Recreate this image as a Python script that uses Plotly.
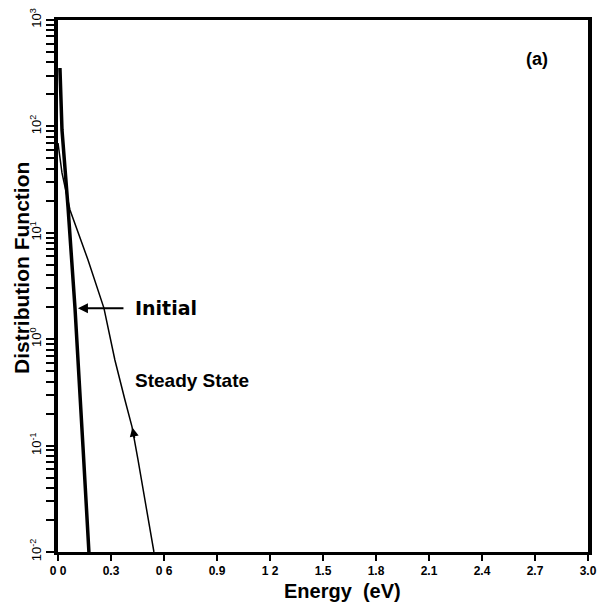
import plotly.graph_objects as go

# Initial distribution (energy in eV, value)
initial_energy = [0.011, 0.0226, 0.0566, 0.0962, 0.1415, 0.175]
initial_value = [354, 92.5, 17.5, 1.96, 0.097, 0.01]

# Steady state distribution
steady_energy = [0.0, 0.0226, 0.068, 0.170, 0.260, 0.322, 0.379, 0.419, 0.453, 0.504, 0.543]
steady_value = [69.8, 36.5, 16.4, 5.55, 1.96, 0.638, 0.268, 0.150, 0.0733, 0.0248, 0.01]

x_tickvals = [0.0, 0.3, 0.6, 0.9, 1.2, 1.5, 1.8, 2.1, 2.4, 2.7, 3.0]
x_ticktext = ["0 0", "0.3", "0 6", "0.9", "1 2", "1.5", "1.8", "2.1", "2.4", "2.7", "3.0"]
y_major = [1e-2, 1e-1, 1e0, 1e1, 1e2, 1e3]
y_major_text = ["10<sup>-2</sup>", "10<sup>-1</sup>", "10<sup>0</sup>", "10<sup>1</sup>", "10<sup>2</sup>", "10<sup>3</sup>"]
y_minor = [m * 10 ** d for d in range(-2, 3) for m in range(2, 10)]

y_tickvals = y_major + y_minor
y_ticktext = y_major_text + [" "] * len(y_minor)

fig = go.Figure()
fig.add_trace(go.Scatter(x=initial_energy, y=initial_value, mode="lines",
                         line=dict(color="black", width=3.5), showlegend=False))
fig.add_trace(go.Scatter(x=steady_energy, y=steady_value, mode="lines",
                         line=dict(color="black", width=1.5), showlegend=False))

font_main = "Liberation Sans, Arial, sans-serif"

fig.add_annotation(x=0.113, y=0.29, xref="x", yref="y", axref="pixel", ayref="pixel",
                   ax=47, ay=0, text="", showarrow=True, arrowhead=2, arrowsize=1,
                   arrowwidth=2, arrowcolor="black")
fig.add_annotation(x=0.421, y=-0.83, xref="x", yref="y", ax=2.5, ay=12,
                   text="", showarrow=True, arrowhead=2, arrowsize=1.2,
                   arrowwidth=1.5, arrowcolor="black")
fig.add_annotation(x=0.425, y=0.29, xref="x", yref="y", text="Initial",
                   showarrow=False, xanchor="left", yanchor="middle",
                   font=dict(family="DejaVu Sans, sans-serif", size=19, color="black", weight="bold"))
fig.add_annotation(x=0.425, y=-0.39, xref="x", yref="y", text="<b>Steady State</b>",
                   showarrow=False, xanchor="left", yanchor="middle",
                   font=dict(family=font_main, size=19, color="black"))
fig.add_annotation(x=2.71, y=2.63, xref="x", yref="y", text="<b>(a)</b>",
                   showarrow=False, xanchor="center", yanchor="middle",
                   font=dict(family=font_main, size=18, color="black"))
fig.add_annotation(x=(342 - 58) / 530, y=-(591 - 552) / 532, xref="paper", yref="paper",
                   text="<b>Energy  (eV)</b>", showarrow=False,
                   xanchor="center", yanchor="middle",
                   font=dict(family=font_main, size=20, color="black"))
fig.add_annotation(x=-(58 - 21) / 530, y=(552 - 268) / 532, xref="paper", yref="paper",
                   text="<b>Distribution Function</b>", showarrow=False, textangle=-90,
                   xanchor="center", yanchor="middle",
                   font=dict(family=font_main, size=21, color="black"))

fig.update_layout(
    width=600, height=604,
    margin=dict(l=58, r=12, t=20, b=52, autoexpand=False),
    paper_bgcolor="white", plot_bgcolor="white",
    font=dict(family=font_main, color="black"),
)
fig.update_xaxes(
    range=[0, 3.0], tickmode="array", tickvals=x_tickvals, ticktext=x_ticktext,
    ticks="outside", ticklen=6, tickwidth=2, tickcolor="black",
    tickfont=dict(family=font_main, size=12, color="black", weight="bold"),
    showline=True, linewidth=3, linecolor="black", mirror=True,
    showgrid=False, zeroline=False, automargin=False,
)
fig.update_yaxes(
    type="log", range=[-2, 3], tickmode="array", tickvals=y_tickvals, ticktext=y_ticktext,
    tickangle=-90, ticks="outside", ticklen=8, tickwidth=2, tickcolor="black",
    tickfont=dict(family=font_main, size=13, color="black"),
    showline=True, linewidth=3.5, linecolor="black", mirror=True,
    showgrid=False, zeroline=False, automargin=False,
)
fig.write_html("out.html")
